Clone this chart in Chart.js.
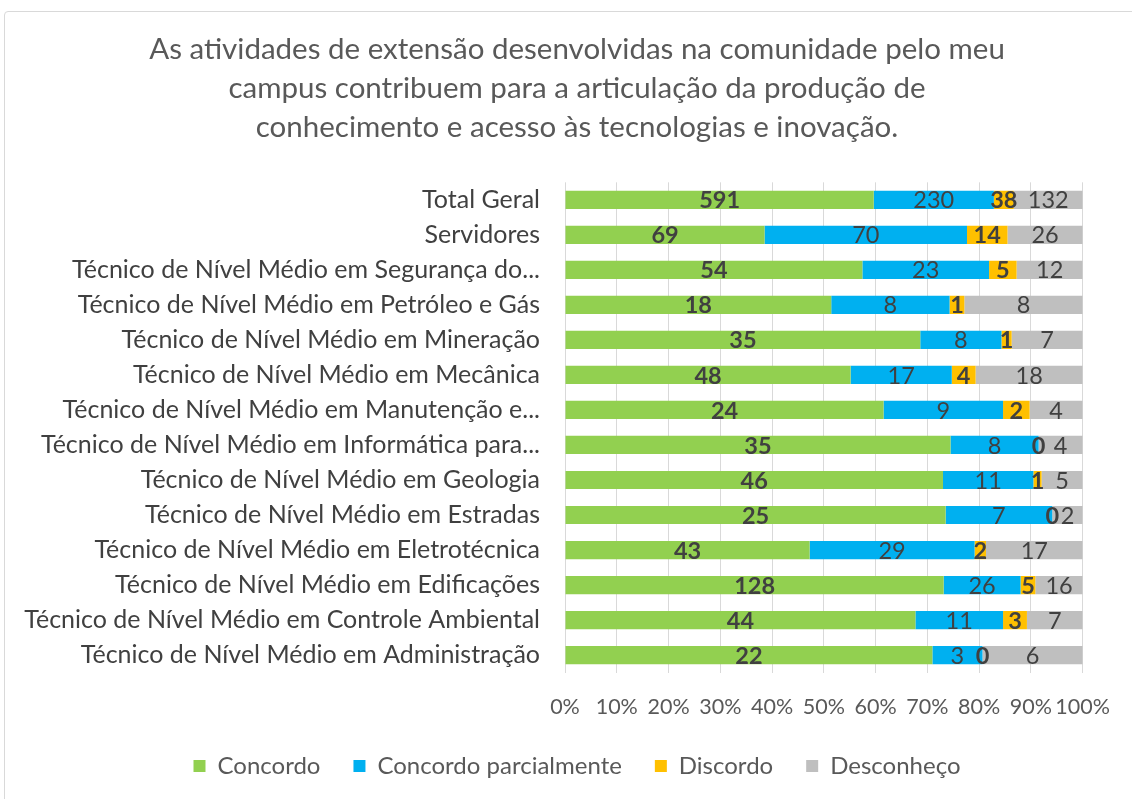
<!DOCTYPE html>
<html>
<head>
<meta charset="utf-8">
<script src="https://cdn.jsdelivr.net/npm/chart.js@4.4.0/dist/chart.umd.min.js"></script>
<style>
  html, body { margin: 0; padding: 0; background: #fff; overflow: hidden; }
  #wrap { position: absolute; left: 0; top: 0; width: 1132px; height: 799px; }
  #frame { position: absolute; left: 4px; top: 11px; width: 1140px; height: 800px;
           border: 1px solid #d9d9d9; border-radius: 4px; }
  canvas { position: absolute; left: 0; top: 0; }
</style>
</head>
<body>
<div id="wrap">
  <div id="frame"></div>
  <canvas id="chart" width="1132" height="799"></canvas>
</div>
<script>
// --- DATA ---
const categories = [
  'Total Geral',
  'Servidores',
  'Técnico de Nível Médio em Segurança do...',
  'Técnico de Nível Médio em Petróleo e Gás',
  'Técnico de Nível Médio em Mineração',
  'Técnico de Nível Médio em Mecânica',
  'Técnico de Nível Médio em Manutenção e...',
  'Técnico de Nível Médio em Informática para...',
  'Técnico de Nível Médio em Geologia',
  'Técnico de Nível Médio em Estradas',
  'Técnico de Nível Médio em Eletrotécnica',
  'Técnico de Nível Médio em Edificações',
  'Técnico de Nível Médio em Controle Ambiental',
  'Técnico de Nível Médio em Administração'
];
const concordo    = [591, 69, 54, 18, 35, 48, 24, 35, 46, 25, 43, 128, 44, 22];
const parcial     = [230, 70, 23,  8,  8, 17,  9,  8, 11,  7, 29,  26, 11,  3];
const discordo    = [ 38, 14,  5,  1,  1,  4,  2,  0,  1,  0,  2,   5,  3,  0];
const desconheco  = [132, 26, 12,  8,  7, 18,  4,  4,  5,  2, 17,  16,  7,  6];
const xTicks = [0, 10, 20, 30, 40, 50, 60, 70, 80, 90, 100];

const titleLines = [
  'As atividades de extensão desenvolvidas na comunidade pelo meu',
  'campus contribuem para a articulação da produção de',
  'conhecimento e acesso às tecnologias e inovação.'
];

const FONT = 'Lato, "Noto Sans", sans-serif';

// totals per row for the 100% stacking
const totals = categories.map((_, i) => concordo[i] + parcial[i] + discordo[i] + desconheco[i]);
const pct = arr => arr.map((v, i) => v / totals[i] * 100);

function makeSet(label, counts, color, bold) {
  return {
    label: label,
    data: pct(counts),
    counts: counts,
    boldLabel: bold,
    backgroundColor: color,
    borderWidth: 0,
    categoryPercentage: 1,
    barPercentage: 0.52
  };
}

// --- VALUE LABELS (centered in each segment) ---
const valueLabels = {
  id: 'valueLabels',
  afterDatasetsDraw(chart) {
    const ctx = chart.ctx;
    chart.data.datasets.forEach((ds, i) => {
      const meta = chart.getDatasetMeta(i);
      meta.data.forEach((bar, j) => {
        const p = bar.getProps(['x', 'y', 'base'], true);
        ctx.save();
        ctx.font = (ds.boldLabel ? 'bold ' : '') + '23.5px ' + FONT;
        ctx.fillStyle = '#404040';
        ctx.textAlign = 'center';
        ctx.textBaseline = 'middle';
        ctx.fillText(String(ds.counts[j]), (p.x + p.base) / 2, p.y + 1);
        ctx.restore();
      });
    });
  }
};

const ctx = document.getElementById('chart').getContext('2d');

new Chart(ctx, {
  type: 'bar',
  data: {
    labels: categories,
    datasets: [
      makeSet('Concordo', concordo, '#92D050', true),
      makeSet('Concordo parcialmente', parcial, '#00B0F0', false),
      makeSet('Discordo', discordo, '#FFC000', true),
      makeSet('Desconheço', desconheco, '#BFBFBF', false)
    ]
  },
  options: {
    indexAxis: 'y',
    responsive: false,
    animation: false,
    layout: { padding: { left: 22, right: 0, top: 0, bottom: 11 } },
    plugins: {
      title: {
        display: true,
        text: titleLines,
        color: '#595959',
        font: { family: FONT, size: 29.5, weight: 'normal', lineHeight: 1.32 },
        padding: { top: 30.5, bottom: 35 }
      },
      legend: {
        position: 'bottom',
        labels: {
          color: '#595959',
          font: { family: FONT, size: 24 },
          boxWidth: 12,
          boxHeight: 12,
          padding: 33
        }
      },
      tooltip: { enabled: false }
    },
    scales: {
      x: {
        stacked: true,
        min: 0,
        max: 100,
        afterBuildTicks: scale => { scale.ticks = xTicks.map(v => ({ value: v })); },
        afterFit: scale => { scale.height = 48.4; },
        ticks: {
          color: '#595959',
          font: { family: FONT, size: 21.5 },
          padding: 22,
          maxRotation: 0,
          autoSkip: false,
          callback: v => v + '%'
        },
        grid: { color: '#d9d9d9', lineWidth: 1, drawTicks: false },
        border: { display: false }
      },
      y: {
        stacked: true,
        afterFit: scale => { scale.width = 543; },
        ticks: {
          color: '#404040',
          font: { family: FONT, size: 25 },
          padding: 25,
          autoSkip: false
        },
        grid: { display: false, drawTicks: false },
        border: { display: false }
      },
      // empty spacer on the right so the plot ends where the reference does
      spacer: {
        type: 'category',
        labels: categories,
        position: 'right',
        afterFit: scale => { scale.width = 47; },
        ticks: { display: false },
        grid: { display: false, drawTicks: false },
        border: { display: false }
      }
    }
  },
  plugins: [valueLabels]
});
</script>
</body>
</html>
